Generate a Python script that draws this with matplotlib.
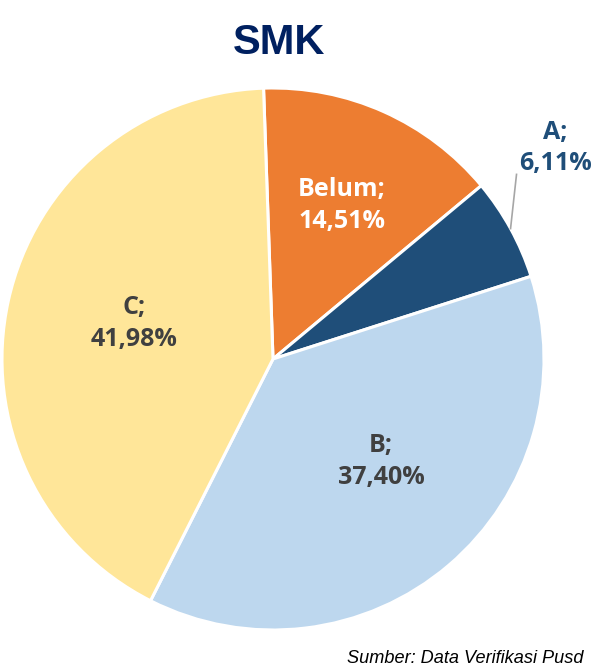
import matplotlib
matplotlib.use("Agg")
import matplotlib.pyplot as plt
import numpy as np

# ---- data ----
categories = ["Belum", "A", "B", "C"]
values = [14.51, 6.11, 37.40, 41.98]
value_labels = ["14,51%", "6,11%", "37,40%", "41,98%"]
title = "SMK"
source = "Sumber: Data Verifikasi Pusd"

# ---- styles ----
colors = ["#ED7D31", "#1F4E79", "#BDD7EE", "#FFE699"]
text_colors = ["white", "#1F4E79", "#404040", "#404040"]
label_r = [0.62, 1.30, 0.55, 0.53]
label_dang = [0, 8, 6, -2]

W, H, DPI = 591, 668, 100
fig = plt.figure(figsize=(W / DPI, H / DPI), dpi=DPI)
fig.patch.set_facecolor("white")

cx, cy, R = 273, 359, 271
ax = fig.add_axes([(cx - R) / W, (H - cy - R) / H, 2 * R / W, 2 * R / H])
ax.axis("off")

wedges, _ = ax.pie(values, colors=colors, startangle=92, counterclock=False,
                   radius=1.0, center=(0, 0),
                   wedgeprops=dict(edgecolor="white", linewidth=2.2))
ax.set_xlim(-1, 1)
ax.set_ylim(-1, 1)

for i, w in enumerate(wedges):
    mid = np.deg2rad((w.theta1 + w.theta2) / 2 + label_dang[i])
    r = label_r[i]
    x, y = r * np.cos(mid), r * np.sin(mid)
    ax.text(x, y, f"{categories[i]};\n{value_labels[i]}", ha="center", va="center",
            color=text_colors[i], fontsize=18, fontweight="bold",
            family="Open Sans", linespacing=1.35, clip_on=False)
    if categories[i] == "A":
        m0 = np.deg2rad((w.theta1 + w.theta2) / 2)
        ex, ey = np.cos(m0), np.sin(m0)
        ax.plot([ex, ex + 0.022], [ey, ey + 0.2], color="#A6A6A6", lw=1.2,
                clip_on=False)

fig.text(279 / W, 1 - 43 / H, title, ha="center", va="center",
         fontsize=30, fontweight="bold", color="#002060", family="Liberation Sans")
fig.text(347 / W, 1 - 663 / H, source, ha="left", va="baseline",
         fontsize=13.1, style="italic", color="black", family="Liberation Sans")

fig.savefig("out.png", dpi=DPI, facecolor="white")
